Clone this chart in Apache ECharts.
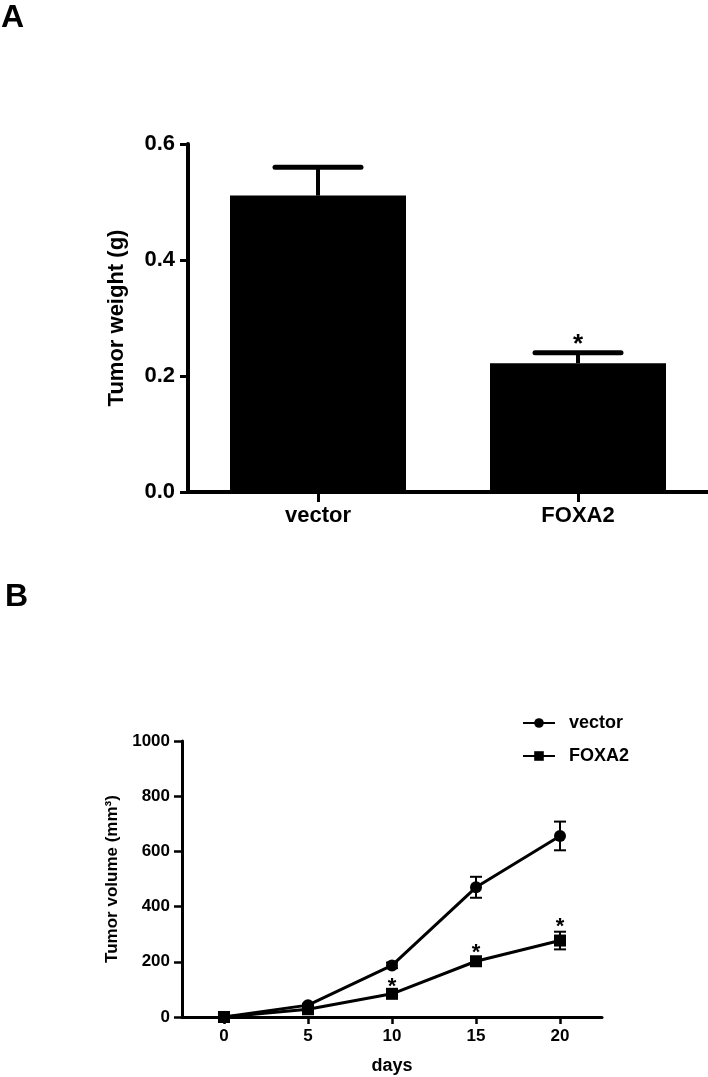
<!DOCTYPE html>
<html>
<head>
<meta charset="utf-8">
<script src="https://cdn.jsdelivr.net/npm/echarts@6/dist/echarts.min.js"></script>
<style>html,body{margin:0;padding:0;background:#fff;}#c{width:708px;height:1077px;}</style>
</head>
<body>
<div id="c"></div>
<script>
// Panel A data
const categories = ['vector', 'FOXA2'];
const weightMean = [0.511, 0.222];
const weightErr = [0.049, 0.018];
const weightStars = ['', '*'];
const weightTicks = [0, 0.2, 0.4, 0.6];

// Panel B data
const days = [0, 5, 10, 15, 20];
const vectorVol = [0, 43, 187, 470, 656];
const vectorErr = [0, 5, 10, 38, 52];
const foxa2Vol = [0, 28, 84, 202, 277];
const foxa2Err = [0, 4, 8, 12, 32];
const foxa2Stars = ['', '', '*', '*', '*'];
const volumeTicks = [0, 200, 400, 600, 800, 1000];

const FF = "'Liberation Sans', Arial, sans-serif";
const chart = echarts.init(document.getElementById('c'), null, {renderer: 'canvas'});

const errA = categories.map((c, i) => [i, weightMean[i], weightMean[i] + weightErr[i]]);
const starA = categories.map((c, i) => [i, weightMean[i] + weightErr[i], weightStars[i]]).filter(d => d[2]);
const errVec = days.map((d, i) => [d, vectorVol[i] - vectorErr[i], vectorVol[i] + vectorErr[i]]);
const errFox = days.map((d, i) => [d, foxa2Vol[i] - foxa2Err[i], foxa2Vol[i] + foxa2Err[i]]);
const starB = days.map((d, i) => [d, foxa2Vol[i] + foxa2Err[i], foxa2Stars[i]]).filter(d => d[2]);

function errRender(half, lw, capW) {
  return function (params, api) {
    const x = api.value(0);
    const lo = api.coord([x, api.value(1)]);
    const hi = api.coord([x, api.value(2)]);
    return {
      type: 'group',
      children: [
        {type: 'line', shape: {x1: lo[0], y1: lo[1], x2: hi[0], y2: hi[1]}, style: {stroke: '#000', lineWidth: lw}},
        {type: 'line', shape: {x1: hi[0] - half, y1: hi[1], x2: hi[0] + half, y2: hi[1]}, style: {stroke: '#000', lineWidth: capW}},
        {type: 'line', shape: {x1: lo[0] - half, y1: lo[1], x2: lo[0] + half, y2: lo[1]}, style: {stroke: '#000', lineWidth: capW}}
      ]
    };
  };
}
function starRender(dy, size) {
  return function (params, api) {
    const p = api.coord([api.value(0), api.value(1)]);
    return {
      type: 'text',
      style: {
        text: '*', x: p[0], y: p[1] - dy, fill: '#000',
        font: 'bold ' + size + 'px ' + FF,
        align: 'center', verticalAlign: 'middle',
        textAlign: 'center', textVerticalAlign: 'middle'
      }
    };
  };
}

const axisTxt = {color: '#000', fontWeight: 'bold', fontFamily: FF};

chart.setOption({
  animation: false,
  backgroundColor: '#fff',
  graphic: [
    {type: 'text', left: 1, top: 2, style: {text: 'A', font: 'bold 32px ' + FF, fill: '#000'}},
    {type: 'text', left: 5, top: 581, style: {text: 'B', font: 'bold 32px ' + FF, fill: '#000'}}
  ],
  legend: {
    data: ['vector', 'FOXA2'],
    orient: 'vertical',
    left: 517, top: 709,
    itemWidth: 32, itemHeight: 12, itemGap: 15,
    textStyle: {color: '#000', fontSize: 18, fontWeight: 'bold', fontFamily: FF, padding: [0, 0, 0, 9]}
  },
  grid: [
    {left: 188, top: 144, width: 520, height: 348},
    {left: 182, top: 741, width: 420, height: 276}
  ],
  xAxis: [
    {
      gridIndex: 0, type: 'category', data: categories,
      axisLine: {lineStyle: {color: '#000', width: 4}},
      axisTick: {show: true, alignWithLabel: true, length: 10, lineStyle: {color: '#000', width: 3}},
      axisLabel: Object.assign({fontSize: 22, margin: 13}, axisTxt)
    },
    {
      gridIndex: 1, type: 'value', min: -2.5, max: 22.5,
      name: 'days', nameLocation: 'middle', nameGap: 40,
      nameTextStyle: Object.assign({fontSize: 18}, axisTxt),
      splitLine: {show: false},
      axisLine: {onZero: false, lineStyle: {color: '#000', width: 3}},
      axisTick: {show: true, length: 7, customValues: days, lineStyle: {color: '#000', width: 2.5}},
      axisLabel: Object.assign({fontSize: 17, margin: 11, customValues: days}, axisTxt)
    }
  ],
  yAxis: [
    {
      gridIndex: 0, type: 'value', min: weightTicks[0], max: weightTicks[weightTicks.length - 1], interval: 0.2,
      name: 'Tumor weight (g)', nameLocation: 'middle', nameGap: 60,
      nameTextStyle: Object.assign({fontSize: 22}, axisTxt),
      splitLine: {show: false},
      axisLine: {show: true, lineStyle: {color: '#000', width: 4}},
      axisTick: {show: true, length: 8, lineStyle: {color: '#000', width: 3}},
      axisLabel: Object.assign({fontSize: 22, margin: 13, formatter: v => v.toFixed(1)}, axisTxt)
    },
    {
      gridIndex: 1, type: 'value', min: volumeTicks[0], max: volumeTicks[volumeTicks.length - 1], interval: 200,
      name: 'Tumor volume (mm³)', nameLocation: 'middle', nameGap: 60,
      nameTextStyle: Object.assign({fontSize: 17}, axisTxt),
      splitLine: {show: false},
      axisLine: {show: true, onZero: false, lineStyle: {color: '#000', width: 3}},
      axisTick: {show: true, length: 8, lineStyle: {color: '#000', width: 2.5}},
      axisLabel: Object.assign({fontSize: 17, margin: 12, formatter: v => String(v)}, axisTxt)
    }
  ],
  series: [
    {
      name: 'weight', type: 'bar', xAxisIndex: 0, yAxisIndex: 0,
      data: weightMean, barWidth: 176, itemStyle: {color: '#000'}
    },
    {
      type: 'custom', xAxisIndex: 0, yAxisIndex: 0, z: 5,
      data: errA,
      renderItem: function (params, api) {
        const x = api.value(0);
        const lo = api.coord([x, api.value(1)]);
        const hi = api.coord([x, api.value(2)]);
        return {type: 'group', children: [
          {type: 'line', shape: {x1: lo[0], y1: lo[1], x2: hi[0], y2: hi[1]}, style: {stroke: '#000', lineWidth: 4}},
          {type: 'line', shape: {x1: hi[0] - 43, y1: hi[1], x2: hi[0] + 43, y2: hi[1]}, style: {stroke: '#000', lineWidth: 5, lineCap: 'round'}}
        ]};
      }
    },
    {
      type: 'custom', xAxisIndex: 0, yAxisIndex: 0, z: 5,
      data: starA, renderItem: starRender(8, 26)
    },
    {
      type: 'custom', xAxisIndex: 1, yAxisIndex: 1, z: 1,
      data: errVec, renderItem: errRender(6, 2, 2)
    },
    {
      type: 'custom', xAxisIndex: 1, yAxisIndex: 1, z: 1,
      data: errFox, renderItem: errRender(6, 2, 2)
    },
    {
      name: 'vector', type: 'line', xAxisIndex: 1, yAxisIndex: 1, z: 3,
      data: days.map((d, i) => [d, vectorVol[i]]),
      symbol: 'circle', symbolSize: 12,
      lineStyle: {color: '#000', width: 3}, itemStyle: {color: '#000'}
    },
    {
      name: 'FOXA2', type: 'line', xAxisIndex: 1, yAxisIndex: 1, z: 3,
      data: days.map((d, i) => [d, foxa2Vol[i]]),
      symbol: 'rect', symbolSize: 12,
      lineStyle: {color: '#000', width: 3}, itemStyle: {color: '#000'}
    },
    {
      type: 'custom', xAxisIndex: 1, yAxisIndex: 1, z: 4,
      data: starB, renderItem: starRender(5, 22)
    }
  ]
});
</script>
</body>
</html>
